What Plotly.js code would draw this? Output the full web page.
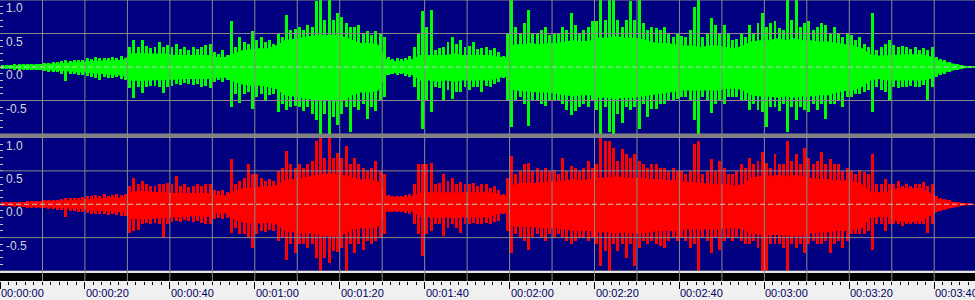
<!DOCTYPE html>
<html><head><meta charset="utf-8">
<script src="https://cdn.plot.ly/plotly-3.0.1.min.js"></script>
<style>html,body{margin:0;padding:0;background:#f0f0f0;overflow:hidden}#chart{width:975px;height:300px}</style>
</head><body><div id="chart"></div>
<script>
// ---- data (seconds, amplitude -1..1) ----
const peakStep = 1;   // one peak bin per second
const coreStep = 2;   // one core bin per two seconds

const leftPeakMax = [
0.03,0.03,0.03,0.04,0.04,0.04,0.05,0.05,0.04,0.05,
0.06,0.06,0.07,0.08,0.09,0.1,0.09,0.1,0.11,0.11,
0.13,0.12,0.15,0.13,0.14,0.13,0.15,0.14,0.16,0.14,
0.3,0.4,0.3,0.4,0.32,0.28,0.3,0.38,0.3,0.33,
0.3,0.35,0.27,0.3,0.26,0.3,0.27,0.3,0.33,0.35,
0.22,0.2,0.25,0.18,0.68,0.3,0.45,0.38,0.35,0.53,
0.4,0.45,0.38,0.4,0.35,0.5,0.45,0.78,0.55,0.57,
0.6,0.55,0.63,0.6,0.98,1.0,0.7,1.0,0.7,0.8,
0.75,0.65,0.6,0.6,0.63,0.5,0.53,0.48,0.53,0.5,
0.45,0.15,0.12,0.13,0.12,0.14,0.16,0.3,0.5,0.83,
0.6,0.85,0.25,0.28,0.3,0.38,0.45,0.35,0.4,0.3,
0.32,0.38,0.27,0.28,0.3,0.25,0.28,0.22,0.16,0.5,
1.0,0.6,0.5,0.65,0.85,0.5,0.5,0.55,0.6,0.48,
0.5,0.5,0.6,0.55,0.8,0.62,0.5,0.55,0.6,0.68,
0.68,1.0,0.7,1.0,1.0,0.7,0.6,0.7,0.98,0.7,
1.0,0.65,0.55,0.6,0.58,0.55,0.6,0.5,0.45,0.5,
0.47,0.45,0.55,0.9,1.0,0.45,0.5,0.73,0.62,0.5,
0.62,0.5,0.4,0.42,0.5,0.45,0.63,0.5,0.65,0.8,
0.6,0.65,0.68,0.58,0.55,1.0,0.7,1.0,0.6,0.65,
0.68,0.55,0.6,0.65,0.63,0.5,0.6,0.5,0.45,0.5,
0.48,0.4,0.45,0.35,0.3,0.8,0.25,0.3,0.35,0.4,
0.33,0.3,0.32,0.3,0.27,0.3,0.25,0.28,0.25,0.3,
0.15,0.12,0.1,0.08,0.05,0.04,0.03,0.02,0.015,0.015];

const leftPeakMin = [
-0.03,-0.03,-0.03,-0.04,-0.04,-0.04,-0.05,-0.05,-0.05,-0.05,
-0.06,-0.07,-0.07,-0.08,-0.1,-0.21,-0.1,-0.1,-0.12,-0.12,
-0.14,-0.15,-0.17,-0.19,-0.15,-0.16,-0.17,-0.15,-0.18,-0.2,
-0.32,-0.47,-0.3,-0.39,-0.3,-0.28,-0.28,-0.3,-0.39,-0.3,
-0.28,-0.25,-0.27,-0.24,-0.25,-0.27,-0.25,-0.3,-0.28,-0.32,
-0.22,-0.2,-0.22,-0.2,-0.59,-0.4,-0.54,-0.4,-0.38,-0.62,
-0.45,-0.4,-0.5,-0.42,-0.4,-0.67,-0.55,-0.64,-0.6,-0.58,
-0.6,-0.65,-0.6,-0.7,-0.79,-1.0,-0.7,-1.0,-0.75,-0.87,
-0.7,-0.6,-0.97,-0.6,-0.64,-0.55,-0.77,-0.6,-0.66,-0.5,
-0.45,-0.12,-0.1,-0.12,-0.11,-0.13,-0.15,-0.3,-0.5,-0.92,
-0.5,-0.67,-0.3,-0.32,-0.5,-0.35,-0.48,-0.38,-0.37,-0.3,
-0.35,-0.3,-0.3,-0.37,-0.28,-0.3,-0.25,-0.22,-0.16,-0.5,
-0.89,-0.5,-0.45,-0.55,-0.88,-0.5,-0.5,-0.55,-0.58,-0.5,
-0.5,-0.5,-0.55,-0.64,-0.72,-0.65,-0.6,-0.55,-0.6,-0.5,
-0.64,-1.0,-0.6,-0.97,-1.0,-0.7,-0.84,-0.6,-0.64,-0.6,
-0.92,-0.55,-0.74,-0.62,-0.62,-0.55,-0.55,-0.5,-0.5,-0.48,
-0.45,-0.45,-0.5,-0.79,-1.0,-0.45,-0.5,-0.69,-0.55,-0.5,
-0.55,-0.45,-0.45,-0.45,-0.5,-0.5,-0.64,-0.55,-0.64,-0.67,
-0.89,-0.6,-0.6,-0.65,-0.55,-0.97,-0.6,-0.79,-0.6,-0.64,
-0.67,-0.55,-0.64,-0.55,-0.77,-0.55,-0.55,-0.5,-0.6,-0.45,
-0.45,-0.4,-0.4,-0.38,-0.35,-0.67,-0.3,-0.35,-0.37,-0.5,
-0.3,-0.32,-0.3,-0.3,-0.28,-0.3,-0.3,-0.27,-0.5,-0.3,
-0.15,-0.12,-0.1,-0.08,-0.05,-0.04,-0.03,-0.02,-0.015,-0.015];

const leftCoreMax = [
0.02,0.025,0.03,0.035,0.035,0.04,0.05,0.06,0.07,0.08,
0.09,0.1,0.1,0.1,0.11,0.2,0.21,0.2,0.2,0.2,
0.18,0.18,0.17,0.18,0.18,0.15,0.15,0.2,0.25,0.26,
0.28,0.28,0.32,0.4,0.42,0.44,0.45,0.48,0.48,0.48,
0.45,0.4,0.36,0.36,0.34,0.12,0.09,0.09,0.12,0.18,
0.18,0.18,0.18,0.2,0.18,0.18,0.18,0.18,0.16,0.14,
0.34,0.34,0.36,0.34,0.36,0.36,0.38,0.4,0.38,0.4,
0.44,0.44,0.46,0.44,0.44,0.42,0.38,0.36,0.36,0.34,
0.32,0.32,0.3,0.32,0.32,0.3,0.28,0.32,0.38,0.4,
0.4,0.43,0.4,0.43,0.4,0.4,0.38,0.38,0.36,0.34,
0.32,0.28,0.19,0.17,0.18,0.19,0.19,0.19,0.19,0.16,
0.1,0.07,0.04,0.02,0.01];

const leftCoreMin = [
-0.02,-0.025,-0.03,-0.035,-0.04,-0.04,-0.05,-0.06,-0.07,-0.08,
-0.1,-0.11,-0.12,-0.12,-0.13,-0.2,-0.21,-0.2,-0.2,-0.2,
-0.19,-0.18,-0.18,-0.18,-0.18,-0.16,-0.16,-0.22,-0.26,-0.28,
-0.28,-0.3,-0.33,-0.42,-0.44,-0.46,-0.48,-0.5,-0.5,-0.52,
-0.5,-0.42,-0.38,-0.38,-0.36,-0.12,-0.09,-0.09,-0.12,-0.2,
-0.2,-0.22,-0.2,-0.22,-0.2,-0.2,-0.2,-0.2,-0.17,-0.14,
-0.35,-0.36,-0.38,-0.38,-0.38,-0.4,-0.42,-0.44,-0.42,-0.42,
-0.46,-0.46,-0.48,-0.46,-0.46,-0.44,-0.42,-0.4,-0.38,-0.36,
-0.35,-0.35,-0.35,-0.35,-0.35,-0.33,-0.32,-0.35,-0.42,-0.44,
-0.44,-0.46,-0.44,-0.46,-0.44,-0.44,-0.42,-0.42,-0.38,-0.36,
-0.35,-0.3,-0.2,-0.18,-0.2,-0.2,-0.2,-0.2,-0.2,-0.18,
-0.1,-0.07,-0.04,-0.02,-0.01];

const rightPeakMax = [
0.03,0.03,0.03,0.04,0.04,0.04,0.05,0.05,0.05,0.05,
0.06,0.06,0.07,0.07,0.08,0.09,0.09,0.1,0.1,0.11,
0.13,0.12,0.14,0.13,0.15,0.13,0.14,0.15,0.14,0.15,
0.28,0.4,0.3,0.35,0.3,0.27,0.28,0.3,0.3,0.32,
0.3,0.43,0.28,0.3,0.26,0.28,0.3,0.27,0.3,0.3,
0.22,0.2,0.22,0.18,0.68,0.3,0.35,0.4,0.6,0.45,
0.45,0.4,0.35,0.38,0.35,0.5,0.55,0.8,0.6,0.55,
0.6,0.55,0.6,0.65,0.95,1.0,0.7,1.0,0.7,0.77,
0.7,0.87,0.6,0.7,0.6,0.55,0.5,0.55,0.65,0.5,
0.45,0.14,0.12,0.13,0.12,0.14,0.15,0.3,0.6,0.6,
0.6,0.62,0.3,0.32,0.45,0.35,0.4,0.3,0.33,0.3,
0.3,0.32,0.28,0.3,0.3,0.25,0.27,0.22,0.15,0.4,
0.72,0.45,0.5,0.6,0.62,0.5,0.55,0.5,0.55,0.5,
0.52,0.45,0.7,0.5,0.58,0.55,0.5,0.55,0.65,0.55,
0.6,1.0,0.95,0.95,0.85,0.65,0.83,0.75,0.7,0.75,
0.65,0.6,0.55,0.6,0.6,0.55,0.55,0.5,0.55,0.5,
0.5,0.45,0.5,0.9,0.95,0.45,0.5,0.68,0.5,0.65,
0.55,0.45,0.45,0.5,0.6,0.55,0.7,0.6,0.65,0.78,
0.62,0.55,0.75,0.6,0.6,0.95,0.65,0.75,0.6,0.85,
0.7,0.6,0.65,0.78,0.6,0.68,0.6,0.6,0.5,0.55,
0.5,0.45,0.52,0.48,0.45,0.75,0.3,0.3,0.38,0.3,
0.3,0.35,0.28,0.3,0.27,0.3,0.3,0.33,0.27,0.3,
0.12,0.1,0.08,0.06,0.04,0.03,0.02,0.015,0.01,0.01];

const rightPeakMin = [
-0.03,-0.03,-0.03,-0.04,-0.04,-0.04,-0.05,-0.05,-0.05,-0.05,
-0.06,-0.07,-0.07,-0.08,-0.09,-0.19,-0.1,-0.1,-0.11,-0.12,
-0.13,-0.14,-0.15,-0.14,-0.15,-0.16,-0.15,-0.16,-0.17,-0.17,
-0.43,-0.4,-0.38,-0.3,-0.28,-0.3,-0.28,-0.3,-0.5,-0.3,
-0.26,-0.25,-0.27,-0.24,-0.25,-0.27,-0.25,-0.28,-0.3,-0.3,
-0.22,-0.2,-0.22,-0.2,-0.43,-0.35,-0.45,-0.45,-0.5,-0.65,
-0.45,-0.4,-0.42,-0.38,-0.4,-0.55,-0.5,-0.83,-0.6,-0.73,
-0.6,-0.6,-0.65,-0.6,-0.8,-1.0,-0.8,-0.88,-0.7,-0.72,
-0.65,-1.0,-0.6,-0.73,-0.6,-0.68,-0.55,-0.6,-0.55,-0.5,
-0.45,-0.12,-0.11,-0.12,-0.12,-0.13,-0.14,-0.3,-0.45,-0.78,
-0.45,-0.4,-0.3,-0.3,-0.48,-0.35,-0.3,-0.35,-0.43,-0.3,
-0.3,-0.28,-0.3,-0.3,-0.28,-0.3,-0.27,-0.25,-0.14,-0.4,
-0.73,-0.45,-0.5,-0.55,-0.68,-0.5,-0.45,-0.5,-0.55,-0.45,
-0.5,-0.45,-0.5,-0.55,-0.6,-0.55,-0.5,-0.5,-0.55,-0.5,
-0.6,-0.93,-0.7,-1.0,-0.6,-0.7,-0.6,-0.8,-0.6,-0.93,
-0.65,-0.55,-0.6,-0.55,-0.6,-0.62,-0.65,-0.55,-0.5,-0.55,
-0.5,-0.55,-0.65,-0.6,-1.0,-0.5,-0.55,-0.73,-0.5,-0.68,
-0.55,-0.5,-0.55,-0.5,-0.55,-0.6,-0.6,-0.55,-0.65,-1.0,
-1.0,-0.6,-0.6,-0.6,-0.65,-1.0,-0.6,-0.65,-0.6,-0.73,
-0.6,-0.55,-0.6,-0.6,-0.55,-0.73,-0.6,-0.55,-0.65,-0.55,
-0.45,-0.45,-0.45,-0.45,-0.4,-0.68,-0.3,-0.3,-0.4,-0.3,
-0.3,-0.3,-0.32,-0.3,-0.3,-0.3,-0.3,-0.3,-0.43,-0.3,
-0.12,-0.1,-0.08,-0.06,-0.04,-0.03,-0.02,-0.015,-0.01,-0.01];

const rightCoreMax = [
0.02,0.025,0.03,0.03,0.035,0.04,0.045,0.05,0.06,0.07,
0.08,0.09,0.1,0.1,0.11,0.19,0.2,0.19,0.19,0.18,
0.17,0.17,0.17,0.17,0.17,0.14,0.13,0.19,0.24,0.25,
0.26,0.26,0.28,0.36,0.38,0.4,0.42,0.44,0.46,0.46,
0.44,0.4,0.37,0.37,0.35,0.12,0.11,0.11,0.12,0.18,
0.18,0.18,0.18,0.18,0.18,0.18,0.18,0.18,0.16,0.12,
0.3,0.32,0.32,0.32,0.34,0.34,0.36,0.38,0.36,0.38,
0.4,0.4,0.42,0.4,0.4,0.4,0.38,0.38,0.36,0.36,
0.34,0.33,0.32,0.3,0.3,0.3,0.28,0.3,0.4,0.42,
0.42,0.44,0.42,0.44,0.42,0.4,0.38,0.38,0.36,0.36,
0.34,0.3,0.19,0.18,0.19,0.24,0.24,0.24,0.24,0.18,
0.08,0.06,0.03,0.02,0.01];

const rightCoreMin = [
-0.02,-0.025,-0.03,-0.035,-0.04,-0.045,-0.05,-0.055,-0.06,-0.07,
-0.09,-0.1,-0.11,-0.12,-0.12,-0.22,-0.23,-0.22,-0.21,-0.21,
-0.19,-0.18,-0.18,-0.18,-0.19,-0.14,-0.14,-0.23,-0.27,-0.29,
-0.29,-0.28,-0.3,-0.4,-0.42,-0.44,-0.44,-0.46,-0.48,-0.48,
-0.45,-0.38,-0.36,-0.36,-0.34,-0.11,-0.1,-0.1,-0.11,-0.19,
-0.2,-0.21,-0.2,-0.21,-0.2,-0.2,-0.2,-0.2,-0.15,-0.13,
-0.34,-0.34,-0.34,-0.36,-0.36,-0.36,-0.38,-0.4,-0.4,-0.4,
-0.42,-0.42,-0.44,-0.42,-0.44,-0.44,-0.42,-0.4,-0.4,-0.4,
-0.38,-0.38,-0.38,-0.38,-0.38,-0.36,-0.36,-0.38,-0.44,-0.46,
-0.46,-0.46,-0.46,-0.48,-0.46,-0.44,-0.42,-0.42,-0.4,-0.4,
-0.38,-0.36,-0.2,-0.19,-0.19,-0.25,-0.27,-0.27,-0.25,-0.18,
-0.1,-0.07,-0.04,-0.02,-0.01];

const timeTickVals = [0,20,40,60,80,100,120,140,160,180,200,220];
const timeTickText = ['00:00:00','00:00:20','00:00:40','00:01:00','00:01:20','00:01:40',
                      '00:02:00','00:02:20','00:02:40','00:03:00','00:03:20','00:03:40'];
const timeGridVals = [10,20,30,40,50,60,70,80,90,100,110,120,130,140,150,160,170,180,190,200,210,220];
const ampTickVals = [1, 0.5, 0, -0.5];
const ampTickText = ['1.0','0.5','0.0','-0.5'];
const ampGridVals = [1, 0.5, -0.5, -1];

// ---- build ----
const peakX = leftPeakMax.map((_, i) => i * peakStep + peakStep / 2);
const coreX = leftCoreMax.map((_, i) => i * coreStep + coreStep / 2);
const minorX = [];
for (let t = 0; t <= 228; t += 2) if (t % 20 !== 0) minorX.push(t);
const ampMinor = [];
for (let k = -9; k <= 9; k++) ampMinor.push(k / 10);

function channel(coreMin, coreMax, pMin, pMax, color, yax) {
  return [
    {type:'scatter', x: coreX, y: coreMin, xaxis:'x', yaxis:yax, mode:'lines',
     line:{width:0, color:color}, hoverinfo:'skip'},
    {type:'scatter', x: coreX, y: coreMax, xaxis:'x', yaxis:yax, mode:'lines',
     line:{width:0, color:color}, fill:'tonexty', fillcolor:color, hoverinfo:'skip'},
    {type:'bar', x: peakX, base: pMin, y: pMax.map((v, i) => v - pMin[i]), width: 0.7,
     xaxis:'x', yaxis:yax, marker:{color:color, line:{width:0}}, hoverinfo:'skip'}
  ];
}

const traces = [].concat(
  channel(leftCoreMin, leftCoreMax, leftPeakMin, leftPeakMax, '#00ff00', 'y'),
  channel(rightCoreMin, rightCoreMax, rightPeakMin, rightPeakMax, '#ff0000', 'y2')
);

// plot area = 281 px tall (0..281 from top)
const PH = 281;
const py = px => (PH - px) / PH;
const gridCol = '#8a8a8a';
const shapes = [];
shapes.push({type:'rect', xref:'paper', yref:'paper', x0:0, x1:1, y0:py(137.5), y1:py(134), fillcolor:'#808080', line:{width:0}, layer:'above'});
shapes.push({type:'rect', xref:'paper', yref:'paper', x0:0, x1:1, y0:py(273), y1:py(271), fillcolor:'#e4e4e4', line:{width:0}, layer:'above'});
shapes.push({type:'rect', xref:'paper', yref:'paper', x0:0, x1:1, y0:0, y1:py(273), fillcolor:'#000000', line:{width:0}, layer:'above'});
timeGridVals.forEach(t => shapes.push({type:'line', xref:'x', yref:'paper', x0:t, x1:t, y0:0, y1:1,
  line:{color:gridCol, width:1}, layer:'above'}));
['y','y2'].forEach(ya => {
  ampGridVals.forEach(v => shapes.push({type:'line', xref:'paper', yref:ya, x0:0, x1:1, y0:v, y1:v,
    line:{color:gridCol, width:1}, layer:'above'}));
  shapes.push({type:'line', xref:'paper', yref:ya, x0:0, x1:1, y0:0, y1:0,
    line:{color:'#c8c8c8', width:1, dash:'5px,3px'}, layer:'above'});
});

const annotations = [];
['y','y2'].forEach(ya => ampTickVals.forEach((v, i) => annotations.push({
  xref:'paper', x:0, xanchor:'left', xshift:5, yref:ya, y:v, yanchor:'top', yshift:0,
  text: ampTickText[i], showarrow:false, borderpad:0,
  font:{family:'Liberation Sans, Arial, sans-serif', size:12, color:'#d4d4d4'}
})));
timeTickVals.forEach((t, i) => annotations.push({
  xref:'x', x:t, xanchor:'left', xshift:0, yref:'paper', y:0, yanchor:'top', yshift:-5,
  text: timeTickText[i], showarrow:false, borderpad:0,
  font:{family:'Liberation Sans, Arial, sans-serif', size:11, color:'#000060'}
}));

const yCommon = {range:[-1,1], showgrid:false, zeroline:false, showline:false, showticklabels:false,
  anchor:'x', ticks:'inside', ticklen:3, tickcolor:'#c0c0c0', tickvals: ampMinor, fixedrange:true};

const layout = {
  width:975, height:300,
  margin:{l:0, r:0, t:0, b:19, pad:0},
  paper_bgcolor:'#f0f0f0', plot_bgcolor:'#000080',
  showlegend:false, bargap:0,
  xaxis:{range:[0,229.6], domain:[0,1], anchor:'free', position:0, showgrid:false, zeroline:false, showline:false,
    tickvals: timeTickVals, showticklabels:false, ticks:'outside', ticklen:7, tickwidth:1, tickcolor:'#000000',
    minor:{tickvals: minorX, ticks:'outside', ticklen:3, tickcolor:'#000000', tickwidth:1, showgrid:false},
    fixedrange:true},
  yaxis: Object.assign({domain:[py(134), 1]}, yCommon),
  yaxis2: Object.assign({domain:[py(271), py(137.5)]}, yCommon),
  shapes: shapes,
  annotations: annotations
};

Plotly.newPlot('chart', traces, layout, {staticPlot:true, displayModeBar:false});
</script></body></html>
